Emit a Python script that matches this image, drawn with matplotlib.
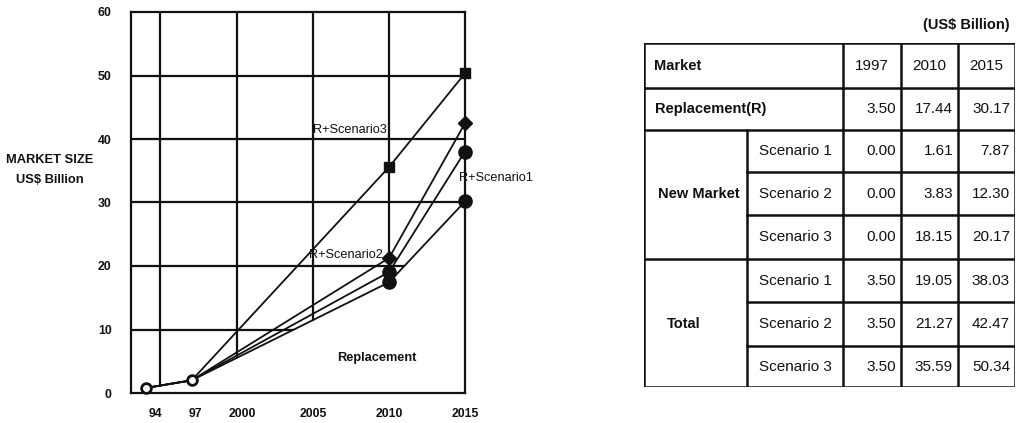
import matplotlib
matplotlib.use('Agg')
import matplotlib.pyplot as plt

plt.rcParams['font.family'] = ['Liberation Sans', 'DejaVu Sans']
INK = '#111111'

# ── chart data ────────────────────────────────────────────────────────────────
years = [1994, 1997, 2010, 2015]
replacement = [0.8, 2.0, 17.44, 30.17]
r_scen1 = [0.8, 2.0, 19.05, 38.03]
r_scen2 = [0.8, 2.0, 21.27, 42.47]
r_scen3 = [0.8, 2.0, 35.59, 50.34]

x_tick_labels = ['94', '97', '2000', '2005', '2010', '2015']
y_ticks = [0, 10, 20, 30, 40, 50, 60]

# ── table data ────────────────────────────────────────────────────────────────
table_years = ['1997', '2010', '2015']
repl_row = [3.50, 17.44, 30.17]
scen_labels = ['Scenario 1', 'Scenario 2', 'Scenario 3']
new_market = [[0.00, 1.61, 7.87],
              [0.00, 3.83, 12.30],
              [0.00, 18.15, 20.17]]
total = [[3.50, 19.05, 38.03],
         [3.50, 21.27, 42.47],
         [3.50, 35.59, 50.34]]

fig = plt.figure(figsize=(10.22, 4.23), dpi=100)
fig.patch.set_facecolor('white')

# ── line chart ────────────────────────────────────────────────────────────────
ax = fig.add_axes([131 / 1022, 30 / 423, 334 / 1022, 381 / 423])
ax.set_xlim(1993, 2015)
ax.set_ylim(0, 60)

ax.hlines([10, 20, 30, 40, 50], 1993, 2015, color=INK, lw=1.6, zorder=1)
ax.vlines([1994.9, 2000, 2005, 2010], 0, 60, color=INK, lw=1.6, zorder=1)
# area under the replacement curve hides the grid, as in the original
ax.fill_between(years, replacement, 0, color='white', lw=0, zorder=1.5)

series = [(replacement, 'o', 9.5), (r_scen1, 'o', 9.5),
          (r_scen2, 'D', 7), (r_scen3, 's', 7.5)]
for vals, mk, ms in series:
    ax.plot(years, vals, color=INK, lw=1.3, zorder=3, clip_on=False,
            marker=mk, markersize=ms, markevery=[2, 3],
            markerfacecolor=INK, markeredgecolor=INK)
ax.plot(years[:2], replacement[:2], ls='none', marker='o', markersize=7,
        markerfacecolor='white', markeredgecolor=INK, mew=2, zorder=4,
        clip_on=False)

for sp in ax.spines.values():
    sp.set_linewidth(1.6)
    sp.set_color(INK)
    sp.set_zorder(2.5)

# labels sit a little right of their gridlines in the original
ax.set_xticks([1994.6, 1997.25, 2000.3, 2005.0, 2010.0, 2015.0])
ax.set_xticklabels(x_tick_labels)
ax.set_yticks(y_ticks)
ax.tick_params(length=0, labelsize=8.8, colors=INK)
ax.tick_params(axis='x', pad=11)
ax.tick_params(axis='y', pad=14)
for lbl in ax.get_xticklabels() + ax.get_yticklabels():
    lbl.set_fontweight('bold')

lab = dict(fontsize=9.2, color=INK, va='center', ha='left', zorder=5)
ax.text(2005.0, 41.4, 'R+Scenario3', **lab)
ax.text(2004.7, 21.7, 'R+Scenario2', **lab)
ax.text(2014.6, 33.9, 'R+Scenario1', clip_on=False, **lab)
ax.text(2006.6, 5.5, 'Replacement', fontweight='bold', **lab)

fig.text(50 / 1022, 1 - 160 / 423, 'MARKET SIZE', ha='center', va='center',
         fontsize=9.3, fontweight='bold', color=INK)
fig.text(50 / 1022, 1 - 180 / 423, 'US$ Billion', ha='center', va='center',
         fontsize=9.3, fontweight='bold', color=INK)

# ── table ─────────────────────────────────────────────────────────────────────
tx0, ty0, tw, th = 644, 43, 371, 344
tab = fig.add_axes([tx0 / 1022, 1 - (ty0 + th) / 423, tw / 1022, th / 423])
tab.set_xlim(0, tw)
tab.set_ylim(th, 0)
tab.axis('off')

col_x = [0, 103, 199, 257, 314, 371]
row_y = [0, 45, 87, 129, 172, 216, 259, 303, 344]
LW = 1.8

def hline(y, x0, x1):
    tab.plot([x0, x1], [y, y], color=INK, lw=LW, solid_capstyle='projecting')

def vline(x, y0, y1):
    tab.plot([x, x], [y0, y1], color=INK, lw=LW, solid_capstyle='projecting')

hline(row_y[0], 0, tw)
hline(row_y[1], 0, tw)
hline(row_y[2], 0, tw)
hline(row_y[3], col_x[1], tw)
hline(row_y[4], col_x[1], tw)
hline(row_y[5], 0, tw)
hline(row_y[6], col_x[1], tw)
hline(row_y[7], col_x[1], tw)
hline(row_y[8], 0, tw)
vline(0, 0, th)
vline(tw, 0, th)
vline(col_x[1], row_y[2], th)
for cx in col_x[2:5]:
    vline(cx, 0, th)

def mid(i):
    return (row_y[i] + row_y[i + 1]) / 2

FS = 11
HFS = 10.5
tab.text(10, mid(0), 'Market', ha='left', va='center', fontsize=HFS,
         fontweight='bold', color=INK)
for j, yr in enumerate(table_years):
    tab.text((col_x[j + 2] + col_x[j + 3]) / 2, mid(0), yr, ha='center',
             va='center', fontsize=FS, color=INK)

tab.text(11, mid(1), 'Replacement(R)', ha='left', va='center', fontsize=HFS,
         fontweight='bold', color=INK)
for j, v in enumerate(repl_row):
    tab.text(col_x[j + 3] - 5, mid(1), f'{v:.2f}', ha='right', va='center',
             fontsize=FS, color=INK)

tab.text(col_x[1] / 2 + 3, mid(3), 'New Market', ha='center', va='center',
         fontsize=HFS, fontweight='bold', color=INK)
tab.text(23, mid(6), 'Total', ha='left', va='center',
         fontsize=HFS, fontweight='bold', color=INK)

for block, start in [(new_market, 2), (total, 5)]:
    for i, row in enumerate(block):
        r = start + i
        tab.text(col_x[1] + 12, mid(r), scen_labels[i], ha='left', va='center',
                 fontsize=FS, color=INK)
        for j, v in enumerate(row):
            tab.text(col_x[j + 3] - 5, mid(r), f'{v:.2f}', ha='right',
                     va='center', fontsize=FS, color=INK)

fig.text(1010 / 1022, 1 - 25 / 423, '(US$ Billion)', ha='right', va='center',
         fontsize=HFS, fontweight='bold', color=INK)

fig.savefig('out.png', dpi=100, facecolor='white')
